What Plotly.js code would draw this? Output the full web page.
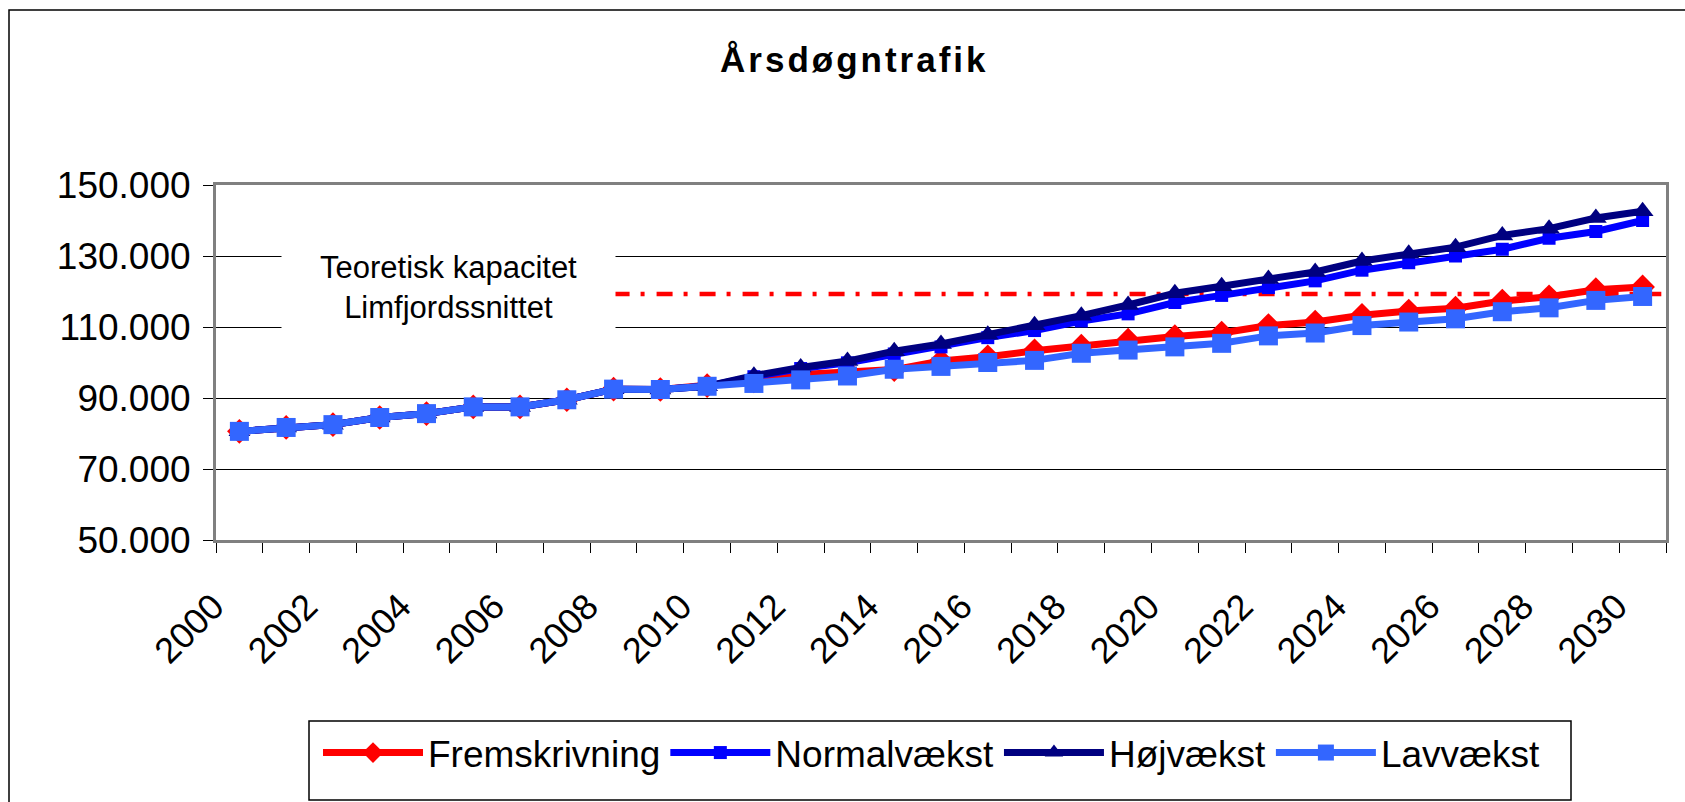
<!DOCTYPE html>
<html><head><meta charset="utf-8">
<script src="https://cdn.plot.ly/plotly-3.0.1.min.js"></script>
<style>
html,body{margin:0;padding:0;background:#fff}
#chart{width:1685px;height:802px}
.gtitle{letter-spacing:3px}
</style>
</head><body><div id="chart"></div>
<script>
const years = [2000,2001,2002,2003,2004,2005,2006,2007,2008,2009,2010,2011,2012,2013,2014,2015,2016,2017,2018,2019,2020,2021,2022,2023,2024,2025,2026,2027,2028,2029,2030];
const fremskrivning = [80600,81700,82500,84500,85600,87500,87500,89500,92500,92400,93500,94800,96600,97500,98000,100400,101600,103300,104600,106300,107300,108300,110400,111400,113300,114500,115300,117300,118500,120500,121300];
const normalvaekst = [80600,81700,82500,84500,85600,87500,87500,89500,92500,92400,93300,96000,98300,99900,102400,104400,107000,109000,111700,113700,116900,118900,121100,123000,126000,128100,130000,131900,135000,136900,140000];
const hojvaekst = [80600,81700,82500,84500,85600,87500,87500,89500,92500,92400,93300,96300,98600,100400,103200,105200,107800,110500,113200,116200,119500,121500,123500,125500,128600,130600,132500,135800,137700,140700,142600];
const lavvaekst = [80600,81700,82500,84500,85600,87500,87500,89500,92500,92400,93300,94100,95100,96200,98100,98900,100000,100600,102600,103500,104400,105400,107500,108300,110400,111400,112300,114300,115400,117500,118600];
const seriesNames = ["Fremskrivning","Normalvækst","Højvækst","Lavvækst"];
const capacityValue = 119300;
const capacityYears = [2008, 2030.4];
const capacityLabel = "Teoretisk kapacitet<br>Limfjordssnittet";
const tickYears = [2000,2002,2004,2006,2008,2010,2012,2014,2016,2018,2020,2022,2024,2026,2028,2030];
const tickYearLabels = tickYears.map(String);
const yTickValues = [50000,70000,90000,110000,130000,150000];
const chartTitle = "Årsdøgntrafik";

const FONT = "Liberation Sans, Arial, sans-serif";

const traces = [
  {x: capacityYears, y: [capacityValue, capacityValue], type: "scatter", mode: "lines", showlegend: false,
   hoverinfo: "skip", line: {color: "#FF0000", width: 4.5, dash: "16px,11px,4px,12px"}},
  {x: years, y: fremskrivning, name: seriesNames[0], type: "scatter", mode: "lines+markers",
   line: {color: "#FF0000", width: 7}, marker: {symbol: "diamond", size: 19, color: "#FF0000"}},
  {x: years, y: normalvaekst, name: seriesNames[1], type: "scatter", mode: "lines+markers",
   line: {color: "#0000FF", width: 7}, marker: {symbol: "square", size: 13, color: "#0000FF"}},
  {x: years, y: hojvaekst, name: seriesNames[2], type: "scatter", mode: "lines+markers",
   line: {color: "#000080", width: 7}, marker: {symbol: "triangle-up", size: 19, color: "#000080"}},
  {x: years, y: lavvaekst, name: seriesNames[3], type: "scatter", mode: "lines+markers",
   line: {color: "#3366FF", width: 7}, marker: {symbol: "square", size: 19, color: "#3366FF"}}
];

const PL = 216, PR = 1666, PT = 185, PB = 540;
const px2paperX = v => (v - PL) / (PR - PL);
const px2paperY = v => (PB - v) / (PB - PT);

const layout = {
  width: 1685, height: 802,
  paper_bgcolor: "#fff", plot_bgcolor: "#fff",
  separators: ",.",
  margin: {l: PL, r: 1685 - PR, t: PT, b: 802 - PB, autoexpand: false},
  font: {family: FONT, color: "#000", size: 36},
  title: {text: chartTitle, font: {family: FONT, size: 35, weight: "bold", color: "#000"},
          x: 0.507, xanchor: "center", y: 1 - 60/802, yanchor: "middle", xref: "container", yref: "container"},
  xaxis: {
    type: "linear", range: [1999.5, 2030.5], fixedrange: true,
    tickmode: "array", tickvals: tickYears, ticktext: tickYearLabels, tickangle: -45,
    ticks: "", tickfont: {family: FONT, size: 36, color: "#000"}, ticklabelstandoff: 28, ticklabelshift: -26,
    showgrid: false, zeroline: false,
    showline: true, linecolor: "#808080", linewidth: 3, mirror: true,
    minor: {tickmode: "linear", tick0: 1999.5, dtick: 1, ticks: "outside", ticklen: 10, tickwidth: 1, tickcolor: "#000", showgrid: false}
  },
  yaxis: {
    range: [50000, 150000], fixedrange: true,
    tickmode: "array", tickvals: yTickValues, tickformat: ",d",
    ticks: "outside", ticklen: 10, tickwidth: 1, tickcolor: "#000",
    tickfont: {family: FONT, size: 37, color: "#000"}, ticklabelstandoff: 5,
    showgrid: true, gridcolor: "#000", gridwidth: 1, zeroline: false,
    showline: true, linecolor: "#808080", linewidth: 3, mirror: true
  },
  showlegend: true,
  legend: {
    orientation: "h", xref: "container", yref: "container",
    x: 318/1685, xanchor: "left", y: 1 - 753/802, yanchor: "middle",
    borderwidth: 0, bgcolor: "rgba(0,0,0,0)",
    font: {family: FONT, size: 37, color: "#000"},
    itemwidth: 100, traceorder: "normal", tracegroupgap: 0
  },
  annotations: [{
    text: capacityLabel, xref: "paper", yref: "paper", x: px2paperX(448), y: px2paperY(287),
    xanchor: "center", yanchor: "middle",
    showarrow: false, font: {family: FONT, size: 31, color: "#000"},
    bgcolor: "#fff", borderpad: 38, align: "center"
  }],
  shapes: [
    {type: "rect", xref: "paper", yref: "paper",
     x0: px2paperX(9), x1: px2paperX(1700), y0: px2paperY(820), y1: px2paperY(10),
     line: {color: "#000", width: 1.5}, fillcolor: "rgba(0,0,0,0)", layer: "below"},
    {type: "rect", xref: "paper", yref: "paper",
     x0: px2paperX(309), x1: px2paperX(1571), y0: px2paperY(800), y1: px2paperY(721),
     line: {color: "#000", width: 1.5}, fillcolor: "rgba(0,0,0,0)", layer: "below"}
  ]
};

Plotly.newPlot("chart", traces, layout, {displayModeBar: false, staticPlot: true});
</script>
</body></html>
